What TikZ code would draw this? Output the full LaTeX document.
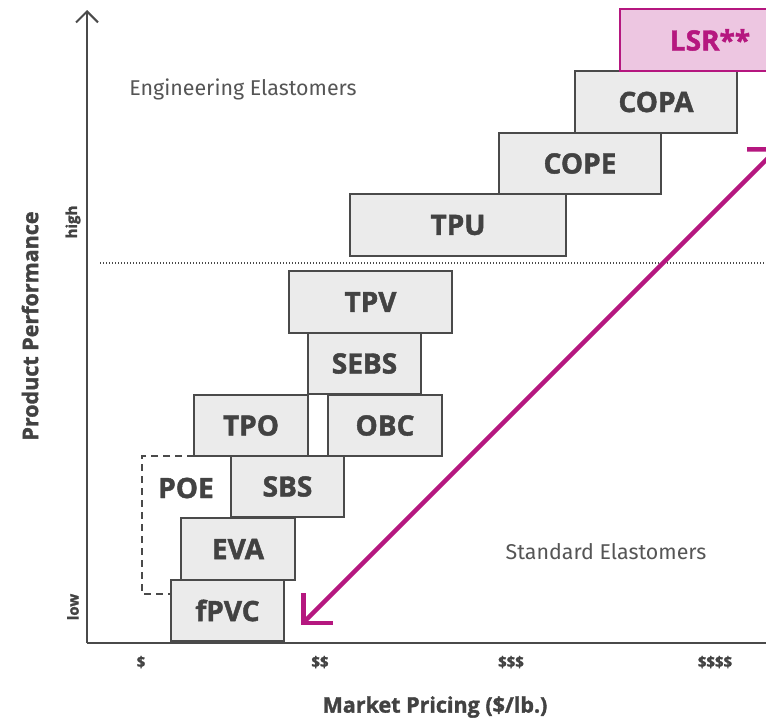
\documentclass[tikz,border=0pt]{standalone}
\usepackage{fontspec}
\setmainfont{Fira Sans}
\newfontfamily\heavyfont{Open Sans}[BoldFeatures={FakeBold=1.6}]
\usetikzlibrary{arrows.meta}
\definecolor{boxgray}{HTML}{EBEBEB}
\definecolor{edgegray}{HTML}{4A4A4A}
\definecolor{txtgray}{HTML}{424242}
\definecolor{lsrpink}{HTML}{EDC6E1}
\definecolor{lsrmag}{HTML}{B5177F}
\begin{document}
\begin{tikzpicture}
    [x=1pt,y=-1pt,
     box/.style={draw=edgegray,fill=boxgray,line width=2.5pt,anchor=north west,
       inner sep=0pt,outer sep=0pt,text=txtgray,font=\heavyfont\fontsize{28}{30}\selectfont\bfseries},
     lsrbox/.style={box,draw=lsrmag,fill=lsrpink,text=lsrmag},
     axislabel/.style={text=txtgray,font=\heavyfont\fontsize{21.5}{23}\selectfont\bfseries},
     ticklabel/.style={text=txtgray,font=\heavyfont\fontsize{15}{17}\selectfont\bfseries},
     zonelabel/.style={text=txtgray!90,font=\fontsize{21.4}{23}\selectfont}]
    \clip (0,0) rectangle (766,720);
    \fill[white] (0,0) rectangle (766,720);
    % axes
    \coordinate (origin) at (87,643);
    \coordinate (ytop) at (87,10);
    \coordinate (xend) at (770,643);
    \draw[edgegray,line width=2.5pt,-{Straight Barb[length=11pt,width=22pt,line width=2pt]}] (origin) -- (ytop);
    \draw[edgegray,line width=2.5pt] (origin) -- (xend);
    \coordinate (split) at (100,263);
    \draw[edgegray,line width=1.2pt,dash pattern=on 1.2pt off 1.8pt] (split) -- (split -| xend);
    % boxes, bottom to top
    \node[box,minimum width=113pt,minimum height=61pt](fpvc) at (171,580){fPVC};
    \node[box,minimum width=114pt,minimum height=62pt](eva) at (181,518){EVA};
    \node[box,minimum width=113pt,minimum height=61pt](sbs) at (231,456){SBS};
    \node[box,minimum width=114pt,minimum height=61pt](tpo) at (194,395){TPO};
    \node[box,minimum width=114pt,minimum height=61pt](obc) at (328,395){OBC};
    \node[box,minimum width=113pt,minimum height=61pt](sebs) at (308,333){SEBS};
    \node[box,minimum width=163pt,minimum height=62pt](tpv) at (289,271){TPV};
    \node[box,minimum width=216pt,minimum height=62pt](tpu) at (350,194){TPU};
    \node[box,minimum width=162pt,minimum height=61pt](cope) at (499,133){COPE};
    \node[box,minimum width=162pt,minimum height=62pt](copa) at (575,71){COPA};
    \node[lsrbox,minimum width=180pt,minimum height=62pt,text width=146pt,align=center](lsr) at (620,9){LSR**};
    % POE
    \node[text=txtgray,font=\heavyfont\fontsize{28}{30}\selectfont\bfseries](poe) at (186,488){POE};
    \coordinate (poecorner) at (142,594);
    \draw[edgegray,line width=2pt,dash pattern=on 7pt off 5pt]
      (tpo.south west) -| (poecorner) -- (poecorner -| fpvc.west);
    % trend arrow
    \coordinate (dear) at (779,147);
    \coordinate (cheap) at (301,625);
    \draw[lsrmag,line width=4.5pt,
      {Straight Barb[length=21pt,width=42pt,line width=4.5pt]}-{Straight Barb[length=21pt,width=42pt,line width=4.5pt]}]
      (dear) -- (cheap);
    % labels
    \node[zonelabel](eng) at (243,89){Engineering Elastomers};
    \node[zonelabel](std) at (606,552){Standard Elastomers};
    \node[axislabel,rotate=90](perf) at (30,326){Product Performance};
    \node[axislabel](price) at (435,707){Market Pricing (\$/lb.)};
    \node[ticklabel,rotate=90](high) at (73,222){high};
    \node[ticklabel,rotate=90](low) at (73,607){low};
    \node[ticklabel](p1) at (141,662){\$};
    \node[ticklabel](p2) at (320,662){\$\$};
    \node[ticklabel](p3) at (511,662){\$\$\$};
    \node[ticklabel](p4) at (715,662){\$\$\$\$};
\end{tikzpicture}
\end{document}
